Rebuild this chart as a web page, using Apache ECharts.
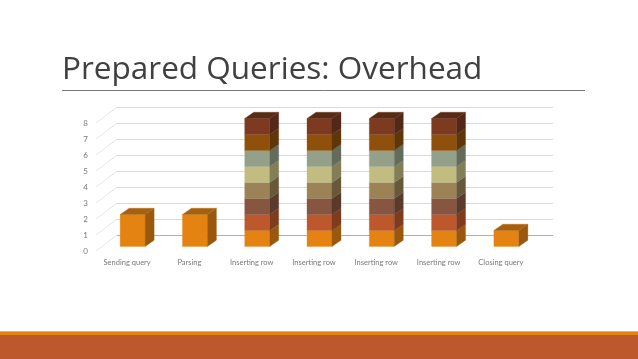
<!DOCTYPE html>
<html>
<head>
<meta charset="utf-8">
<style>html,body{margin:0;padding:0;background:#fff}#c{width:638px;height:359px}</style>
<script src="https://cdn.jsdelivr.net/npm/echarts@6/dist/echarts.min.js"></script>
</head>
<body>
<div id="c"></div>
<script>
const titleText = "Prepared Queries: Overhead";
const categories = ["Sending query","Parsing","Inserting row","Inserting row","Inserting row","Inserting row","Closing query"];
const valueTicks = [0,1,2,3,4,5,6,7,8];
const s1 = [2,2,1,1,1,1,1];
const s2 = [0,0,1,1,1,1,0];
const s3 = [0,0,1,1,1,1,0];
const s4 = [0,0,1,1,1,1,0];
const s5 = [0,0,1,1,1,1,0];
const s6 = [0,0,1,1,1,1,0];
const s7 = [0,0,1,1,1,1,0];
const s8 = [0,0,1,1,1,1,0];
const stacks = [s1,s2,s3,s4,s5,s6,s7,s8];
const fronts = ["#E48312","#BD582C","#865640","#9B8357","#C2BC80","#94A088","#8F500C","#7E3A20"];
const sides  = ["#9A580C","#7F3B1E","#5A3A2B","#68583A","#827E56","#636C5B","#603608","#552716"];
const tops   = ["#A8600C","#8E4221","#654130","#746241","#918D60","#6F7866","#6B3C09","#5A2A14"];

const barWidth = 25, depthX = 9, depthY = 6.3, barShiftX = 5.5, barShiftY = -4.5;
const wallX = 21, wallY = -16;

function poly(pts, fill){
  return {type:'polygon', shape:{points:pts}, style:{fill:fill, stroke:fill, lineWidth:0.3}};
}
function barSeries(idx){
  const data = categories.map((c,i)=>{
    let base = 0;
    for(let k=0;k<idx;k++) base += stacks[k][i];
    let above = 0;
    for(let k=idx+1;k<stacks.length;k++) above += stacks[k][i];
    return [i, base, base+stacks[idx][i], above];
  });
  return {
    type:'custom', xAxisIndex:0, yAxisIndex:0, z:5+idx, silent:true, clip:false,
    name:'Segment '+(idx+1),
    encode:{x:0,y:[1,2]},
    data:data,
    renderItem(params, api){
      const lo = api.value(1), hi = api.value(2);
      if(hi<=lo) return null;
      const a = api.coord([api.value(0), lo]);
      const b = api.coord([api.value(0), hi]);
      const x0 = a[0]-barWidth/2+barShiftX, x1 = x0+barWidth;
      const y0 = a[1]+barShiftY, y1 = b[1]+barShiftY;
      const kids = [
        poly([[x0,y0],[x1,y0],[x1,y1],[x0,y1]], fronts[idx]),
        poly([[x1,y0],[x1+depthX,y0-depthY],[x1+depthX,y1-depthY],[x1,y1]], sides[idx])
      ];
      if(api.value(3)===0){
        kids.push(poly([[x0,y1],[x1,y1],[x1+depthX,y1-depthY],[x0+depthX,y1-depthY]], tops[idx]));
      }
      return {type:'group', children:kids};
    }
  };
}
const diagonals = {
  type:'custom', xAxisIndex:0, yAxisIndex:0, z:1, silent:true, clip:false,
  encode:{y:1},
  data:valueTicks.map(v=>[0,v]),
  renderItem(params, api){
    const p = api.coord([0, api.value(1)]);
    const left = params.coordSys.x;
    return {type:'line', shape:{x1:left,y1:p[1],x2:left+wallX,y2:p[1]+wallY},
      style:{stroke:'#e6e6e6', lineWidth:1}};
  }
};

const chart = echarts.init(document.getElementById('c'), null, {renderer:'canvas'});
chart.setOption({
  animation:false,
  backgroundColor:'#ffffff',
  title:{text:titleText, left:62, top:49, padding:0,
    textStyle:{fontFamily:'"Open Sans"', fontSize:31.5, fontWeight:'normal', color:'#404040', lineHeight:42}},
  grid:[
    {left:96, top:123, width:436, height:128},
    {left:96+wallX, top:123+wallY, width:436, height:128}
  ],
  xAxis:[
    {type:'category', gridIndex:0, data:categories,
      axisLine:{show:false}, axisTick:{show:false}, splitLine:{show:false},
      axisLabel:{interval:0, margin:8, fontFamily:'Lato', fontSize:7.5, color:'#7a7a7a'}},
    {type:'category', gridIndex:1, data:categories, show:true,
      axisLine:{show:true, lineStyle:{color:'#b0b0b0', width:1}}, axisTick:{show:false},
      axisLabel:{show:false}, splitLine:{show:false}}
  ],
  yAxis:[
    {type:'value', gridIndex:0, min:0, max:8, interval:1,
      axisLine:{show:false}, axisTick:{show:false}, splitLine:{show:false},
      axisLabel:{margin:8, fontFamily:'Lato', fontSize:8, color:'#7a7a7a', padding:[2,0,0,0]}},
    {type:'value', gridIndex:1, min:0, max:8, interval:1,
      axisLine:{show:false}, axisTick:{show:false}, axisLabel:{show:false},
      splitLine:{show:true, lineStyle:{color:'#d9d9d9', width:1}}}
  ],
  series:[diagonals].concat(stacks.map((s,i)=>barSeries(i))),
  graphic:[
    {type:'line', silent:true, shape:{x1:62,y1:90.5,x2:585,y2:90.5}, style:{stroke:'#7a7a7a', lineWidth:1}},
    {type:'rect', silent:true, shape:{x:0,y:331,width:638,height:2}, style:{fill:'#E9B26C'}},
    {type:'rect', silent:true, shape:{x:0,y:332,width:638,height:3}, style:{fill:'#E48312'}},
    {type:'rect', silent:true, shape:{x:0,y:335,width:638,height:24}, style:{fill:'#BD582C'}}
  ]
});
</script>
</body>
</html>
